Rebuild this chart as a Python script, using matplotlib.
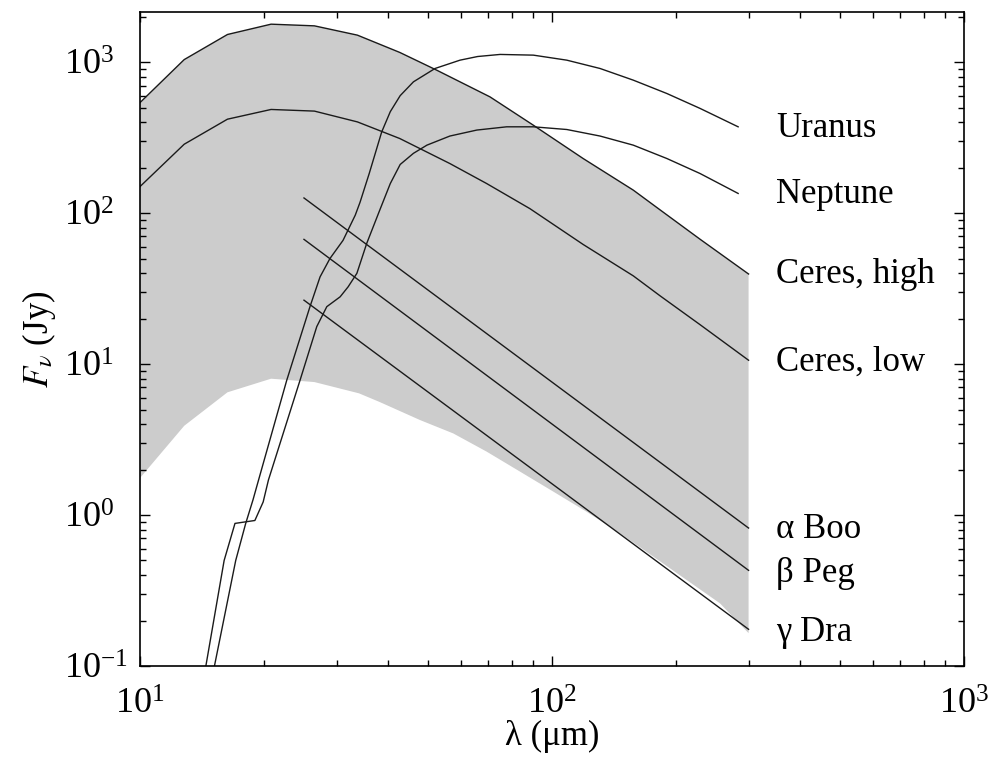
import matplotlib
matplotlib.use("Agg")
import matplotlib.pyplot as plt
from matplotlib.ticker import LogLocator, NullFormatter

plt.rcParams['font.family'] = 'serif'
plt.rcParams['font.serif'] = ['Liberation Serif', 'DejaVu Serif']
plt.rcParams['mathtext.fontset'] = 'stix'

# Ceres, high (upper edge of the grey band)
ceres_high_lam = [10, 12.8, 16.3, 20.8, 26.5, 33.7, 42.7, 52.5, 70.7, 90, 119, 157.5, 183, 229, 300]
ceres_high_f = [540, 1040, 1525, 1785, 1740, 1510, 1160, 885, 589, 383, 230, 142, 105, 67, 39.5]

# Ceres, low
ceres_low_lam = [10, 12.8, 16.3, 20.8, 26.5, 33.7, 42.7, 56.5, 69.4, 88.4, 119, 157.5, 183, 229, 300]
ceres_low_f = [150, 286, 419, 486, 474, 402, 312, 213, 157, 107, 62, 38.4, 28.3, 18.2, 10.6]

# lower edge of the grey band
band_low_lam = [10, 12.8, 16.3, 20.8, 26.5, 34, 38.2, 47.8, 57.6, 69.4, 83.6, 100.7, 121.4,
                146.2, 176.2, 212.3, 255.7, 300]
band_low_f = [1.76, 3.9, 6.5, 8.0, 7.6, 6.4, 5.6, 4.26, 3.47, 2.63, 1.94, 1.43, 1.05,
              0.757, 0.53, 0.371, 0.26, 0.165]

uranus_lam = [15.1, 17.07, 18.05, 18.8, 19.4, 22.7, 25.85, 27.35, 28.9, 31.1, 33.3, 34.2, 36.0,
              38.6, 40.5, 42.8, 46.1, 52.0, 59.8, 66.0, 74.8, 90.1, 108.6, 130.8, 157.5, 190, 228.7, 283]
uranus_f = [0.095, 0.50, 0.88, 1.26, 1.71, 7.8, 24.0, 37.8, 50, 66, 97, 118, 183,
            345, 470, 600, 741, 908, 1031, 1090, 1125, 1113, 1031, 908, 760, 620, 494, 373]

neptune_lam = [14.4, 16.0, 17.0, 19.0, 19.9, 20.5, 24.45, 26.85, 28.4, 30.6, 32.0, 33.6, 35.5,
               38.2, 40.5, 42.8, 46.1, 49.7, 56.5, 65.7, 77.6, 90.1, 108.6, 130.8, 157.5, 190, 228.7, 283]
neptune_f = [0.095, 0.50, 0.88, 0.92, 1.22, 1.71, 7.8, 17.7, 24, 27.9, 32.5, 39.9, 63,
             105, 157, 210, 249, 282, 324, 355, 373, 373, 358, 324, 282, 230, 183, 135]

# stars: straight Rayleigh-Jeans lines
star_lam = [25, 300]
alpha_boo_f = [126, 0.82]
beta_peg_f = [67, 0.43]
gamma_dra_f = [26.5, 0.175]

labels = ["Uranus", "Neptune", "Ceres, high", "Ceres, low", "\u03b1 Boo", "\u03b2 Peg", "\u03b3 Dra"]
label_f = [366, 132, 39.5, 10.3, 0.80, 0.41, 0.166]
label_lam = 350

fig = plt.figure(figsize=(9.89, 7.58), dpi=100)
ax = fig.add_axes([0.1416, 0.1214, 0.8331, 0.8628])
ax.set_xscale('log')
ax.set_yscale('log')

# grey band between Ceres high and the lower envelope
poly_x = ceres_high_lam + band_low_lam[::-1]
poly_y = ceres_high_f + band_low_f[::-1]
ax.fill(poly_x, poly_y, color='#cccccc', lw=0, zorder=1)

lc = '#1a1a1a'
lw = 1.0
ax.plot(ceres_high_lam, ceres_high_f, color=lc, lw=lw, zorder=2)
ax.plot(ceres_low_lam, ceres_low_f, color=lc, lw=lw, zorder=2)
ax.plot(uranus_lam, uranus_f, color=lc, lw=lw, zorder=2)
ax.plot(neptune_lam, neptune_f, color=lc, lw=lw, zorder=2)
for f in [alpha_boo_f, beta_peg_f, gamma_dra_f]:
    ax.plot(star_lam, f, color=lc, lw=lw, zorder=2)

for name, y in zip(labels, label_f):
    ax.text(label_lam, y, name, fontsize=25, ha='left', va='center')

ax.set_xlim(10, 1000)
ax.set_ylim(0.1, 2150)

ax.xaxis.set_major_locator(LogLocator(base=10, numticks=10))
ax.yaxis.set_major_locator(LogLocator(base=10, numticks=10))
ax.xaxis.set_minor_locator(LogLocator(base=10, subs=range(2, 10), numticks=20))
ax.yaxis.set_minor_locator(LogLocator(base=10, subs=range(2, 10), numticks=20))
ax.xaxis.set_minor_formatter(NullFormatter())
ax.yaxis.set_minor_formatter(NullFormatter())

ax.tick_params(which='both', direction='in', top=True, right=True, labelsize=26, width=1.0)
ax.tick_params(which='minor', length=4)
ax.tick_params(axis='x', which='major', length=7, pad=16)
ax.tick_params(axis='y', which='major', length=7, pad=55)
# y tick labels start at the same x, exponents stick out to the right
plt.setp(ax.get_yticklabels(), ha='left')
for s in ax.spines.values():
    s.set_linewidth(1.2)

ax.set_xlabel("\u03bb (\u03bcm)", fontsize=25, labelpad=-1)
ax.set_ylabel("$F_{\\nu}$ (Jy)", fontsize=25)
ax.yaxis.set_label_coords(-0.10, 0.5)

fig.savefig("out.png", dpi=100)
